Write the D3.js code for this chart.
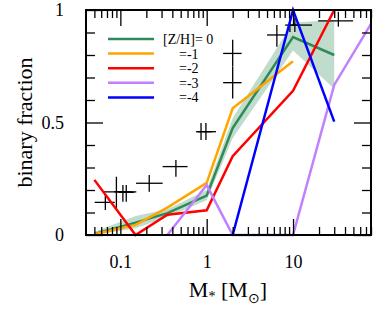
<!DOCTYPE html>
<html>
<head>
<meta charset="utf-8">
<script src="https://cdn.jsdelivr.net/npm/d3@7"></script>
<style>
  body { margin: 0; background: #fff; }
  text { font-family: "Liberation Serif", "Times New Roman", serif; }
</style>
</head>
<body>
<div id="chart-area"></div>
<script>
// mass bins (Msun)
var massBins = [0.05, 0.15, 0.35, 1, 2, 10, 30, 100];

// model binary fraction per metallicity
var fracZ0 = [0.005, 0.055, 0.097, 0.175, 0.475, 0.88, 0.80];
var bandLo = [0, 0.03, 0.08, 0.155, 0.43, 0.82, 0.65];
var bandHi = [0.015, 0.085, 0.115, 0.2, 0.52, 0.945, 0.955];
var fracZm1 = [0.003, 0.045, 0.122, 0.232, 0.563, 0.772];
var fracZm2 = [0.245, 0, 0.09, 0.11, 0.35, 0.641, 1.0];
var massZm3 = [0.35, 1, 2, 10, 30, 100];
var fracZm3 = [0, 0.222, 0, 0, 0.667, 1.0];
var massZm4 = [2, 10, 30];
var fracZm4 = [0, 1.0, 0.504];

// observations (crosses)
var obsMass   = [0.067, 0.09, 0.107, 0.117, 0.216, 0.44, 0.86, 0.98, 2.0, 2.0, 6.5, 9.2, 10.5, 33.5];
var obsMassLo = [0.0504, 0.063, 0.085, 0.095, 0.152, 0.309, 0.75, 0.79, 1.55, 1.55, 5.0, 8.1, 9.0, 19.5];
var obsMassHi = [0.086, 0.153, 0.135, 0.145, 0.309, 0.60, 1.15, 1.28, 2.54, 2.54, 8.45, 12, 16.6, 49.6];
var obsFrac   = [0.145, 0.192, 0.192, 0.19, 0.23, 0.304, 0.459, 0.459, 0.807, 0.677, 0.889, 0.933, 0.933, 0.952];
var obsFracLo = [0.111, 0.111, 0.148, 0.148, 0.192, 0.259, 0.422, 0.422, 0.748, 0.607, 0.837, 0.902, 0.902, 0.926];
var obsFracHi = [0.178, 0.259, 0.222, 0.222, 0.267, 0.333, 0.498, 0.498, 0.868, 0.747, 0.933, 0.964, 0.964, 0.992];

var xMajor = [0.1, 1, 10];
var xMinor = [0.05, 0.06, 0.07, 0.08, 0.09, 0.2, 0.3, 0.4, 0.5, 0.6, 0.7, 0.8, 0.9,
              2, 3, 4, 5, 6, 7, 8, 9, 20, 30, 40, 50, 60, 70, 80];
var yMajor = [0, 0.5, 1];
var yMinor = [0.1, 0.2, 0.3, 0.4, 0.6, 0.7, 0.8, 0.9];

var legendLabels = ["[Z/H]= 0", "=-1", "=-2", "=-3", "=-4"];
var colors = ["#2e8b57", "#ffa500", "#ff0000", "#c080ff", "#0000ff"];

var margin = { left: 86, right: 20, top: 10, bottom: 75 };
var width = 391 - margin.left - margin.right;
var height = 310 - margin.top - margin.bottom;

var svg = d3.select("#chart-area")
  .append("svg")
  .attr("width", 391)
  .attr("height", 310);
var g = svg.append("g")
  .attr("transform", "translate(" + margin.left + "," + margin.top + ")");

var x = d3.scaleLog().domain([0.04, 80]).range([0, width]);
var y = d3.scaleLinear().domain([0, 1]).range([height, 0]);

svg.append("defs").append("clipPath").attr("id", "clip")
  .append("rect").attr("x", 0).attr("y", -8).attr("width", width).attr("height", height + 16);

var plot = g.append("g").attr("clip-path", "url(#clip)");

// shaded band for [Z/H]=0
var band = d3.area()
  .x(function(d, i){ return x(massBins[i]); })
  .y0(function(d, i){ return y(bandLo[i]); })
  .y1(function(d, i){ return y(bandHi[i]); });
plot.append("path")
  .datum(bandLo)
  .attr("d", band)
  .attr("fill", "#2e8b57")
  .attr("fill-opacity", 0.3);

// observed crosses
obsMass.forEach(function(m, i){
  plot.append("line")
    .attr("x1", x(obsMassLo[i])).attr("x2", x(obsMassHi[i]))
    .attr("y1", y(obsFrac[i])).attr("y2", y(obsFrac[i]))
    .attr("stroke", "#000").attr("stroke-width", 1.3);
  plot.append("line")
    .attr("x1", x(m)).attr("x2", x(m))
    .attr("y1", y(obsFracLo[i])).attr("y2", y(obsFracHi[i]))
    .attr("stroke", "#000").attr("stroke-width", 1.3);
});

// model lines
var series = [
  { m: massBins, f: fracZ0 },
  { m: massBins, f: fracZm1 },
  { m: massBins, f: fracZm2 },
  { m: massZm3, f: fracZm3 },
  { m: massZm4, f: fracZm4 }
];
series.forEach(function(s, k){
  var line = d3.line()
    .x(function(d, i){ return x(s.m[i]); })
    .y(function(d){ return y(d); });
  plot.append("path")
    .datum(s.f)
    .attr("d", line)
    .attr("fill", "none")
    .attr("stroke", colors[k])
    .attr("stroke-width", 2.5);
});

// axes, ticks pointing inward on all four sides
function styleAxis(sel) {
  sel.select(".domain").remove();
  sel.selectAll("line").attr("stroke", "#000").attr("stroke-width", 1.3);
  sel.selectAll("text").attr("font-size", "18px").attr("fill", "#000")
    .attr("font-family", "Liberation Serif, serif");
}

g.append("g").attr("transform", "translate(0," + height + ")")
  .call(d3.axisBottom(x).tickValues(xMajor).tickSize(-16).tickPadding(20)
    .tickFormat(function(d){ return d3.format("")(d); }))
  .call(styleAxis);
g.append("g").attr("transform", "translate(0," + height + ")")
  .call(d3.axisBottom(x).tickValues(xMinor).tickSize(-8).tickFormat(""))
  .call(styleAxis);
g.append("g")
  .call(d3.axisTop(x).tickValues(xMajor).tickSize(-16).tickFormat(""))
  .call(styleAxis);
g.append("g")
  .call(d3.axisTop(x).tickValues(xMinor).tickSize(-8).tickFormat(""))
  .call(styleAxis);

g.append("g")
  .call(d3.axisLeft(y).tickValues(yMajor).tickSize(-17).tickPadding(22)
    .tickFormat(function(d){ return d3.format("")(d); }))
  .call(styleAxis);
g.append("g")
  .call(d3.axisLeft(y).tickValues(yMinor).tickSize(-9).tickFormat(""))
  .call(styleAxis);
g.append("g").attr("transform", "translate(" + width + ",0)")
  .call(d3.axisRight(y).tickValues(yMajor).tickSize(-17).tickFormat(""))
  .call(styleAxis);
g.append("g").attr("transform", "translate(" + width + ",0)")
  .call(d3.axisRight(y).tickValues(yMinor).tickSize(-9).tickFormat(""))
  .call(styleAxis);

// frame
g.append("rect")
  .attr("width", width).attr("height", height)
  .attr("fill", "none").attr("stroke", "#000").attr("stroke-width", 2);

// legend
legendLabels.forEach(function(lab, i){
  var ly = 29 + i * 14.6;
  g.append("line")
    .attr("x1", 22).attr("x2", 68)
    .attr("y1", ly).attr("y2", ly)
    .attr("stroke", colors[i]).attr("stroke-width", 2.5);
  g.append("text")
    .attr("x", i == 0 ? 77 : 93)
    .attr("y", ly + 5)
    .attr("font-size", "14px")
    .text(lab);
});

// Y axis label
svg.append("text")
  .attr("transform", "translate(32," + (margin.top + height / 2) + ") rotate(-90)")
  .attr("text-anchor", "middle")
  .attr("font-size", "22px")
  .text("binary fraction");

// X axis label
var xl = svg.append("text")
  .attr("x", 228).attr("y", 297)
  .attr("text-anchor", "middle")
  .attr("font-size", "22px");
xl.append("tspan").text("M");
xl.append("tspan").attr("font-size", "14px").attr("dy", 4).text("*");
xl.append("tspan").attr("dy", -4).text(" [M");
xl.append("tspan").attr("font-size", "14px").attr("dy", 6).text("\u2299");
xl.append("tspan").attr("dy", -6).text("]");
</script>
</body>
</html>
